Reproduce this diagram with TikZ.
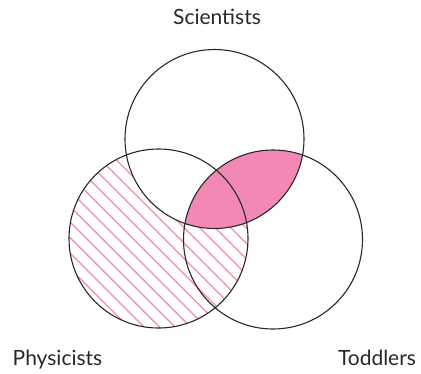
\documentclass[tikz,border=0pt]{standalone}
\usepackage{fontspec}
\setmainfont{Lato}
\usetikzlibrary{positioning}
\definecolor{vennpink}{RGB}{242,137,181}
\definecolor{rimgray}{RGB}{40,40,40}
\tikzset{
  rim/.style={draw=rimgray,line width=1.1pt},
  hatch/.style={draw=vennpink,line width=1.2pt},
  lens/.style={fill=vennpink},
  lab/.style={font=\fontsize{21}{25}\selectfont,text=rimgray,anchor=base,inner sep=0pt},
}
\newcommand{\vennr}{89.5}

\begin{document}
\begin{tikzpicture}[x=1pt,y=-1pt]
  \path[use as bounding box] (0,0) rectangle (421,373);
  \coordinate (sci) at (214.5,139);
  \coordinate (phy) at (158.5,238.5);
  \coordinate (tod) at (273,239.5);

  % physicists who are not scientists
  \begin{scope}[even odd rule]
    \clip (phy) circle[radius=\vennr];
    \clip (0,0) rectangle (421,373) (sci) circle[radius=\vennr];
    \foreach \k in {-8,...,17}
      \draw[hatch] ({-152+15.5*\k},0) -- ++(380,380);
  \end{scope}

  % scientists who are toddlers
  \begin{scope}
    \clip (sci) circle[radius=\vennr];
    \fill[lens] (tod) circle[radius=\vennr];
  \end{scope}

  \draw[rim] (sci) circle[radius=\vennr];
  \draw[rim] (phy) circle[radius=\vennr];
  \draw[rim] (tod) circle[radius=\vennr];

  \node[lab] (scilab) at (217,24) {Scientists};
  \node[lab] (phylab) at (57.5,365) {Physicists};
  \node[lab] (todlab) at (377,365) {Toddlers};
\end{tikzpicture}
\end{document}
